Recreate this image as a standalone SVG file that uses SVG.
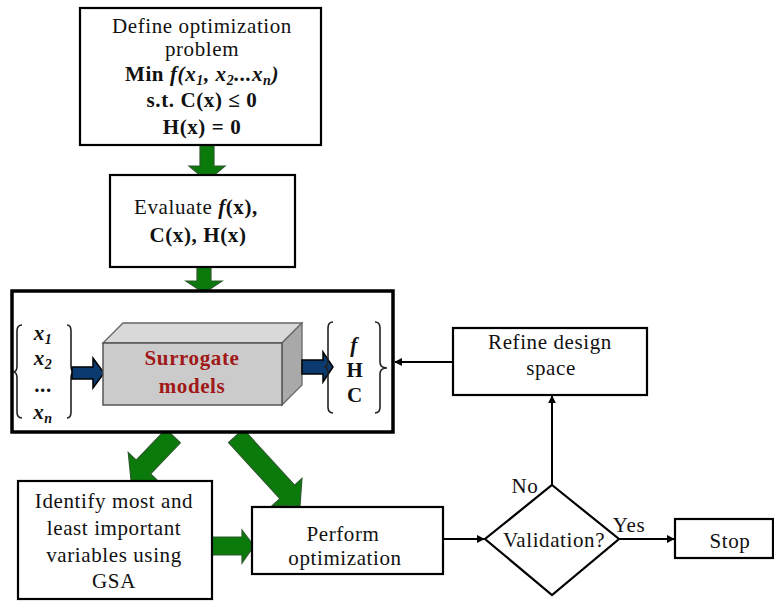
<svg xmlns="http://www.w3.org/2000/svg" width="774" height="601" viewBox="0 0 774 601">
<style>
.box{fill:#fff;stroke:#000;stroke-width:2.2}
.t{font-family:"Liberation Serif","Times New Roman",serif;font-size:21px;fill:#111;text-anchor:middle;letter-spacing:0.6px}
.b{font-weight:bold}
.i{font-style:italic}
.sub{font-size:14px}
.green{fill:#0a7a0a;stroke:#2d5a2d;stroke-width:1.2}
.blue{fill:#0b3b6e;stroke:#000;stroke-width:1.5}
.conn{stroke:#000;stroke-width:2;fill:none}
.brace{fill:none;stroke:#222;stroke-width:1.6}
</style>
<defs>
<marker id="ah" viewBox="0 0 10 10" refX="9" refY="5" markerWidth="4" markerHeight="4" orient="auto" markerUnits="strokeWidth">
<path d="M0,0 L10,5 L0,10 z" fill="#000"/>
</marker>
</defs>

<g id="block-arrows">
<polygon class="green" points="200,145 214,145 214,166 225,166 207,181 189,166 200,166"/>
<polygon class="green" points="197,267 211,267 211,281 222,281 204,293 186,281 197,281"/>
<polygon class="green" transform="translate(131,480) rotate(133.7)" points="0,0 -18,-21 -18,-10 -61,-10 -61,10 -18,10 -18,21"/>
<polygon class="green" transform="translate(300,506) rotate(47.6)" points="0,0 -19,-20 -19,-10 -95,-10 -95,10 -19,10 -19,20"/>
<polygon class="green" points="212,537 242,537 242,530 254,546 242,563 242,555 212,555"/>
</g>

<g id="node-define">
<rect class="box" x="80" y="8" width="241" height="137"/>
<text class="t" x="202" y="33">Define optimization</text>
<text class="t" x="202" y="56">problem</text>
<text class="t b" x="202" y="81">Min <tspan class="i">f(x</tspan><tspan class="i sub" dy="4">1</tspan><tspan class="i" dy="-4">, x</tspan><tspan class="i sub" dy="4">2</tspan><tspan class="i" dy="-4">...x</tspan><tspan class="i sub" dy="4">n</tspan><tspan class="i" dy="-4">)</tspan></text>
<text class="t b" x="202" y="107">s.t. C(x) ≤ 0</text>
<text class="t b" x="202" y="134">H(x) = 0</text>
</g>

<g id="node-evaluate">
<rect class="box" x="110" y="175" width="185" height="92"/>
<text class="t" x="196" y="214">Evaluate <tspan class="i b">f</tspan><tspan class="b">(x),</tspan></text>
<text class="t b" x="198" y="242">C(x), H(x)</text>
</g>

<g id="node-surrogate">
<rect x="12" y="291" width="381" height="141" fill="#fff" stroke="#000" stroke-width="3.5"/>
<path class="brace" d="M22,325 Q17,325 17,331 L17,366 Q17,372 13,372 Q17,372 17,378 L17,412 Q17,418 22,418"/>
<path class="brace" d="M67,325 Q71,325 71,331 L71,366 Q71,372 75,372 Q71,372 71,378 L71,412 Q71,418 67,418"/>
<text class="t b i" x="43" y="340">x<tspan class="sub" dy="4">1</tspan></text>
<text class="t b i" x="43" y="365">x<tspan class="sub" dy="4">2</tspan></text>
<text class="t b" x="43" y="392">...</text>
<text class="t b i" x="43" y="419">x<tspan class="sub" dy="4">n</tspan></text>
<polygon class="blue" points="72,367 93,367 93,358 104,373 93,388 93,379 72,379"/>
<polygon points="103,343 123,323 302,323 282,343" fill="#d9d9d9" stroke="#666" stroke-width="1.3"/>
<polygon points="282,343 302,323 302,385 282,405" fill="#a9a9a9" stroke="#666" stroke-width="1.3"/>
<rect x="103" y="343" width="179" height="62" fill="#cbcbcb" stroke="#555" stroke-width="1.5"/>
<text class="t b" x="192" y="365" style="fill:#a01818">Surrogate</text>
<text class="t b" x="192" y="393" style="fill:#a01818">models</text>
<polygon class="blue" points="302,360 323,360 323,352 333,367 323,382 323,374 302,374"/>
<path class="brace" d="M333,322 Q328,322 328,328 L328,361 Q328,367 324,367 Q328,367 328,373 L328,407 Q328,413 333,413"/>
<path class="brace" d="M375,322 Q380,322 380,328 L380,362 Q380,368 387,368 Q380,368 380,374 L380,407 Q380,413 375,413"/>
<text class="t b i" x="354" y="352">f</text>
<text class="t b" x="355" y="377">H</text>
<text class="t b" x="355" y="402">C</text>
</g>

<g id="node-refine">
<rect class="box" x="453" y="328" width="194" height="67"/>
<text class="t" x="550" y="349">Refine design</text>
<text class="t" x="551" y="375">space</text>
</g>

<g id="node-identify">
<rect class="box" x="18" y="481" width="194" height="118"/>
<text class="t" x="114" y="508">Identify most and</text>
<text class="t" x="114" y="535">least important</text>
<text class="t" x="114" y="562">variables using</text>
<text class="t" x="114" y="588">GSA</text>
</g>

<g id="node-perform">
<rect class="box" x="252" y="507" width="191" height="67"/>
<text class="t" x="343" y="541">Perform</text>
<text class="t" x="345" y="565">optimization</text>
</g>

<g id="node-validation">
<polygon points="552,485 619,539 552,595 485,539" fill="#fff" stroke="#000" stroke-width="2.2"/>
<text class="t" x="554" y="547">Validation?</text>
</g>

<g id="node-stop">
<rect class="box" x="675" y="519" width="98" height="39"/>
<text class="t" x="730" y="548">Stop</text>
</g>

<g id="connectors">
<line class="conn" x1="453" y1="362" x2="395" y2="362" marker-end="url(#ah)"/>
<line class="conn" x1="552" y1="485" x2="552" y2="396" marker-end="url(#ah)"/>
<line class="conn" x1="443" y1="539" x2="484" y2="539" marker-end="url(#ah)"/>
<line class="conn" x1="619" y1="539" x2="674" y2="539" marker-end="url(#ah)"/>
<text class="t" x="525" y="493">No</text>
<text class="t" x="629" y="532">Yes</text>
</g>
</svg>
